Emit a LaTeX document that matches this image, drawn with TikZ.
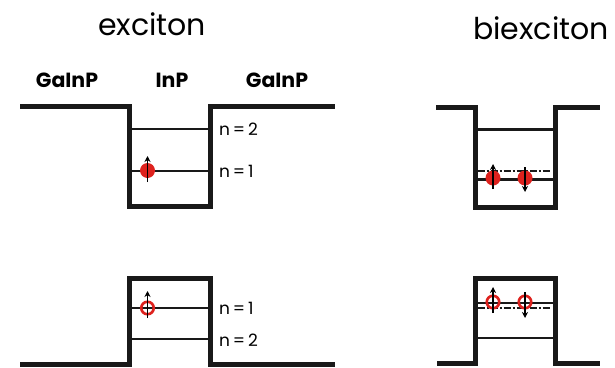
\documentclass[tikz,border=0pt]{standalone}
\usepackage{fontspec}
\setmainfont{Poppins}
\usetikzlibrary{arrows.meta}
\definecolor{carrier}{RGB}{222,34,30}
\tikzset{
  band/.style={line width=5pt, line join=miter, black!90},
  level/.style={line width=2.2pt, black!90},
  virtual/.style={line width=2.2pt, black!90, dash pattern=on 7pt off 2pt on 2pt off 2pt},
  spin/.style={line width=1.6pt, black, -{Stealth[length=6pt,width=6pt]}},
  electron/.style={circle, fill=carrier, inner sep=0pt, minimum size=15pt},
  hole/.style={circle, draw=carrier, line width=2.6pt, inner sep=0pt, minimum size=12.5pt},
  title/.style={font=\fontsize{30}{33}\selectfont, inner sep=0pt},
  material/.style={font=\fontsize{20.5}{23}\selectfont\bfseries, inner sep=0pt},
  qnum/.style={font=\fontsize{17}{20}\selectfont, inner sep=0pt, anchor=west}
}
\begin{document}
\begin{tikzpicture}[x=1pt, y=-1pt]
\useasboundingbox (0,0) rectangle (615,367);

% headings
\node[title] (tex) at (152,24) {exciton};
\node[title] (tbx) at (541,28) {biexciton};
\node[material] (m1) at (67,80) {GaInP};
\node[material] (m2) at (172,80) {InP};
\node[material] (m3) at (277,80) {GaInP};

% ---- exciton, conduction band ----
\draw[band] (20,106.5) -- (129.5,106.5) -- (129.5,206.5) -- (210,206.5) -- (210,106.5) -- (335,106.5);
\coordinate (c2l) at (132,129); \coordinate (c2r) at (207.5,129);
\coordinate (c1l) at (132,171); \coordinate (c1r) at (207.5,171);
\draw[level] (c2l) -- (c2r);
\draw[level] (c1l) -- (c1r);
\node[qnum] (lc2) at (219,129) {n\,=\,2};
\node[qnum] (lc1) at (219,171) {n\,=\,1};
\node[electron] (e1) at (147.5,170.5) {};
\coordinate (e1b) at (147.5,182); \coordinate (e1t) at (147.5,156);
\draw[spin] (e1b) -- (e1t);

% ---- exciton, valence band ----
\draw[band] (20,364) -- (129.5,364) -- (129.5,278) -- (210,278) -- (210,364) -- (335,364);
\coordinate (v1l) at (132,308); \coordinate (v1r) at (207.5,308);
\coordinate (v2l) at (132,339); \coordinate (v2r) at (207.5,339);
\draw[level] (v1l) -- (v1r);
\draw[level] (v2l) -- (v2r);
\node[qnum] (lv1) at (219,308) {n\,=\,1};
\node[qnum] (lv2) at (219,340) {n\,=\,2};
\node[hole] (h1) at (147.5,308) {};
\coordinate (h1b) at (147.5,318); \coordinate (h1t) at (147.5,291);
\draw[spin] (h1b) -- (h1t);

% ---- biexciton, conduction band ----
\draw[band] (436,107) -- (475,107) -- (475,207) -- (555,207) -- (555,107) -- (600,107);
\coordinate (b2l) at (477.5,129.5); \coordinate (b2r) at (552.5,129.5);
\coordinate (b1l) at (477.5,179.5); \coordinate (b1r) at (552.5,179.5);
\coordinate (bvl) at (477.5,171); \coordinate (bvr) at (550,171);
\draw[level] (b2l) -- (b2r);
\draw[level] (b1l) -- (b1r);
\draw[virtual] (bvl) -- (bvr);
\node[electron] (e2) at (493,178) {};
\node[electron] (e3) at (525,178) {};
\coordinate (e2b) at (493,189); \coordinate (e2t) at (493,164);
\coordinate (e3t) at (525,167); \coordinate (e3b) at (525,192);
\draw[spin] (e2b) -- (e2t);
\draw[spin] (e3t) -- (e3b);

% ---- biexciton, valence band ----
\draw[band] (437,363) -- (475,363) -- (475,278) -- (555,278) -- (555,363) -- (600,363);
\coordinate (w1l) at (477.5,303); \coordinate (w1r) at (552.5,303);
\coordinate (wvl) at (477.5,308); \coordinate (wvr) at (550,308);
\coordinate (w2l) at (477.5,338); \coordinate (w2r) at (552.5,338);
\draw[level] (w1l) -- (w1r);
\draw[virtual] (wvl) -- (wvr);
\draw[level] (w2l) -- (w2r);
\node[hole] (h2) at (493,302) {};
\node[hole] (h3) at (525,302) {};
\coordinate (h2b) at (493,313); \coordinate (h2t) at (493,287);
\coordinate (h3t) at (525,292); \coordinate (h3b) at (525,318);
\draw[spin] (h2b) -- (h2t);
\draw[spin] (h3t) -- (h3b);
\end{tikzpicture}
\end{document}
